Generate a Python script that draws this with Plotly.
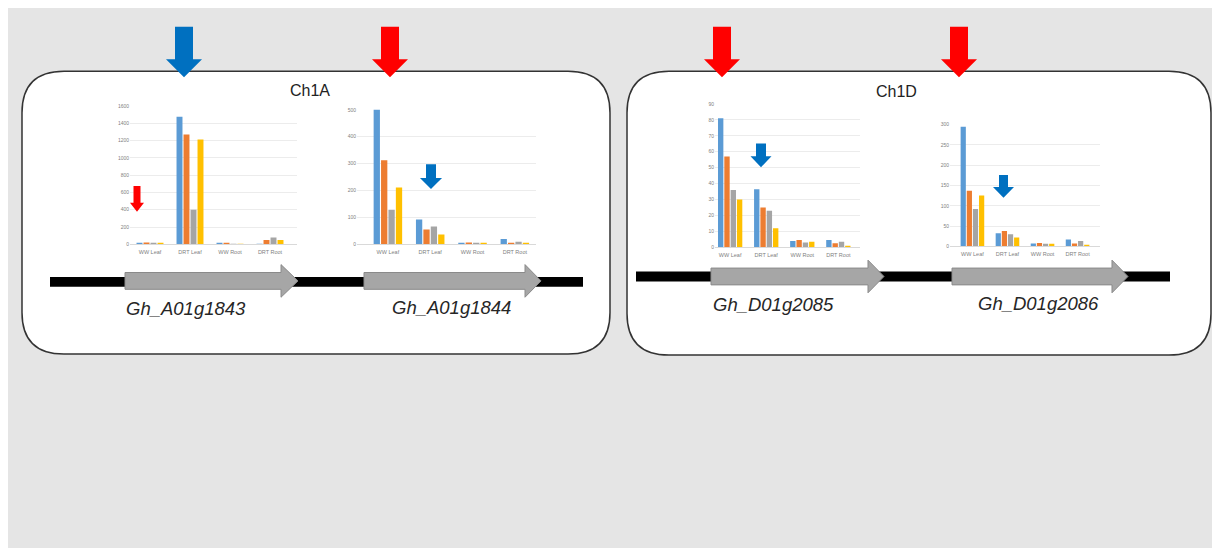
import plotly.graph_objects as go

W, H = 1212, 548

categories = ["WW Leaf", "DRT Leaf", "WW Root", "DRT Root"]
series_names = ["Series 1", "Series 2", "Series 3", "Series 4"]
series_colors = ["#5b9bd5", "#ed7d31", "#a5a5a5", "#ffc000"]

# Gh_A01g1843
a1843_s1 = [15, 1475, 12, 2]
a1843_s2 = [20, 1270, 6, 50]
a1843_s3 = [10, 400, 2, 80]
a1843_s4 = [10, 1212, 2, 50]
# Gh_A01g1844
a1844_s1 = [512, 92, 5, 20]
a1844_s2 = [313, 55, 7, 5]
a1844_s3 = [129, 66, 4, 10]
a1844_s4 = [211, 37, 5, 3]
# Gh_D01g2085
d2085_s1 = [81, 36.5, 4, 4.5]
d2085_s2 = [57, 25, 4.5, 2.5]
d2085_s3 = [36, 23, 3, 3.5]
d2085_s4 = [30, 12, 3.5, 1]
# Gh_D01g2086
d2086_s1 = [295, 32, 7, 17]
d2086_s2 = [137, 38, 8, 7]
d2086_s3 = [92, 30, 6, 13]
d2086_s4 = [125, 22, 6, 4]

gene_names = ["Gh_A01g1843", "Gh_A01g1844", "Gh_D01g2085", "Gh_D01g2086"]
chrom_names = ["Ch1A", "Ch1D"]
y_dticks = [200, 100, 10, 50]
y_maxes = [1600, 500, 90, 300]


def X(px):
    return px / W


def Y(py):
    return 1 - py / H


charts = [
    dict(data=[a1843_s1, a1843_s2, a1843_s3, a1843_s4], xd=(130, 297), yd=(104, 244), xr=(-0.5, 3.675)),
    dict(data=[a1844_s1, a1844_s2, a1844_s3, a1844_s4], xd=(357, 536), yd=(108, 244), xr=(-0.73, 3.5)),
    dict(data=[d2085_s1, d2085_s2, d2085_s3, d2085_s4], xd=(715, 860), yd=(102, 247), xr=(-0.42, 3.6)),
    dict(data=[d2086_s1, d2086_s2, d2086_s3, d2086_s4], xd=(950, 1100), yd=(123, 246), xr=(-0.64, 3.64)),
]

fig = go.Figure()
layout_axes = {}
for i, ch in enumerate(charts):
    n = "" if i == 0 else str(i + 1)
    for k, vals in enumerate(ch["data"]):
        fig.add_trace(go.Bar(
            x=categories, y=vals, name=series_names[k],
            marker=dict(color=series_colors[k], line=dict(width=0)),
            xaxis="x" + n, yaxis="y" + n, showlegend=False, hoverinfo="skip",
            offsetgroup=str(k),
        ))
    layout_axes["xaxis" + n] = dict(
        domain=[X(ch["xd"][0]), X(ch["xd"][1])], anchor="y" + n,
        range=list(ch["xr"]), type="category", showgrid=False,
        showline=True, linecolor="#d9d9d9", linewidth=1, ticks="",
        ticklabelstandoff=2,
        tickfont=dict(size=5.5, color="#7f7f7f", family="Liberation Sans, Arial"),
        fixedrange=True,
    )
    layout_axes["yaxis" + n] = dict(
        domain=[Y(ch["yd"][1]), Y(ch["yd"][0])], anchor="x" + n,
        range=[0, y_maxes[i]], dtick=y_dticks[i], tick0=0,
        showgrid=True, gridcolor="#ececec", gridwidth=1, zeroline=False,
        showline=False, ticks="",
        tickfont=dict(size=5, color="#7f7f7f", family="Liberation Sans, Arial"),
        fixedrange=True,
    )


def poly(points):
    s = "M " + " L ".join(f"{X(px):.5f},{Y(py):.5f}" for px, py in points) + " Z"
    return s


def rrect(x0, y0, x1, y1, r):
    p = []
    p.append(f"M {X(x0 + r):.5f},{Y(y0):.5f}")
    p.append(f"L {X(x1 - r):.5f},{Y(y0):.5f}")
    p.append(f"Q {X(x1):.5f},{Y(y0):.5f} {X(x1):.5f},{Y(y0 + r):.5f}")
    p.append(f"L {X(x1):.5f},{Y(y1 - r):.5f}")
    p.append(f"Q {X(x1):.5f},{Y(y1):.5f} {X(x1 - r):.5f},{Y(y1):.5f}")
    p.append(f"L {X(x0 + r):.5f},{Y(y1):.5f}")
    p.append(f"Q {X(x0):.5f},{Y(y1):.5f} {X(x0):.5f},{Y(y1 - r):.5f}")
    p.append(f"L {X(x0):.5f},{Y(y0 + r):.5f}")
    p.append(f"Q {X(x0):.5f},{Y(y0):.5f} {X(x0 + r):.5f},{Y(y0):.5f} Z")
    return " ".join(p)


def down_arrow(cx, top, head_base, tip, stem_w, head_w):
    return poly([
        (cx - stem_w / 2, top), (cx + stem_w / 2, top), (cx + stem_w / 2, head_base),
        (cx + head_w / 2, head_base), (cx, tip), (cx - head_w / 2, head_base),
        (cx - stem_w / 2, head_base),
    ])


def gene_arrow(x0, head_base, tip, yc, body_h, head_h):
    return poly([
        (x0, yc - body_h / 2), (head_base, yc - body_h / 2), (head_base, yc - head_h / 2),
        (tip, yc), (head_base, yc + head_h / 2), (head_base, yc + body_h / 2),
        (x0, yc + body_h / 2),
    ])


shapes = []
# background
shapes.append(dict(type="rect", xref="paper", yref="paper", x0=X(8), x1=X(1215), y0=Y(552), y1=Y(5),
                   fillcolor="#e5e5e5", line=dict(width=0), layer="below"))
# panels
for (x0, y0, x1, y1) in [(22, 69, 610, 355), (627, 69, 1211, 356)]:
    shapes.append(dict(type="path", xref="paper", yref="paper", path=rrect(x0, y0, x1, y1, 42),
                       fillcolor="#ffffff", line=dict(color="#333333", width=1.5), layer="below"))

# chromosome lines
for (x0, x1, yc) in [(50, 583, 282), (636, 1170, 276.5)]:
    shapes.append(dict(type="rect", xref="paper", yref="paper", x0=X(x0), x1=X(x1), y0=Y(yc + 5), y1=Y(yc - 5),
                       fillcolor="#000000", line=dict(width=0), layer="above"))
# gene arrows
for (x0, hb, tp, yc) in [(125, 281, 298, 281), (364, 525, 541, 281), (711, 868, 884, 276.5), (952, 1112, 1128, 276.5)]:
    shapes.append(dict(type="path", xref="paper", yref="paper", path=gene_arrow(x0, hb, tp, yc, 17, 33),
                       fillcolor="#a6a6a6", line=dict(color="#8a8a8a", width=1), layer="above"))

# top arrows
top_arrows = [(184, "#0070c0"), (390, "#ff0000"), (722, "#ff0000"), (959, "#ff0000")]
for cx, col in top_arrows:
    shapes.append(dict(type="path", xref="paper", yref="paper", path=down_arrow(cx, 24, 57, 75, 18, 36),
                       fillcolor=col, line=dict(width=0), layer="above"))
# small in-chart arrows
small_arrows = [
    (137, 185, 202, 211, 7, 14, "#ff0000"),
    (431, 163, 177, 188, 10, 22, "#0070c0"),
    (761, 142, 155, 166, 10, 21, "#0070c0"),
    (1003.5, 174, 186, 197, 9, 21, "#0070c0"),
]
for cx, t, hb, tp, sw, hw, col in small_arrows:
    shapes.append(dict(type="path", xref="paper", yref="paper", path=down_arrow(cx, t, hb, tp, sw, hw),
                       fillcolor=col, line=dict(width=0), layer="above"))

annotations = []
for (txt, cx, cy) in zip(chrom_names, [310, 896], [88, 89]):
    annotations.append(dict(text=txt, x=X(cx), y=Y(cy), xref="paper", yref="paper", showarrow=False,
                            xanchor="center", yanchor="middle",
                            font=dict(size=16, color="#222222", family="Liberation Sans, Arial")))
for (txt, cx, cy) in zip(gene_names, [186, 451, 773, 1038], [309, 308, 305, 304]):
    annotations.append(dict(text=f"<i>{txt}</i>", x=X(cx), y=Y(cy), xref="paper", yref="paper", showarrow=False,
                            xanchor="center", yanchor="middle",
                            font=dict(size=18.5, color="#262626", family="Liberation Sans, Arial")))

fig.update_layout(
    width=W, height=H, margin=dict(l=0, r=0, t=0, b=0),
    paper_bgcolor="#ffffff", plot_bgcolor="rgba(0,0,0,0)",
    barmode="group", bargap=0.3, bargroupgap=0.15,
    shapes=shapes, annotations=annotations, showlegend=False,
    **layout_axes,
)

fig.write_html("out.html", config={"displayModeBar": False},
               post_script=["document.body.style.margin='0';document.body.style.overflow='hidden';"])
